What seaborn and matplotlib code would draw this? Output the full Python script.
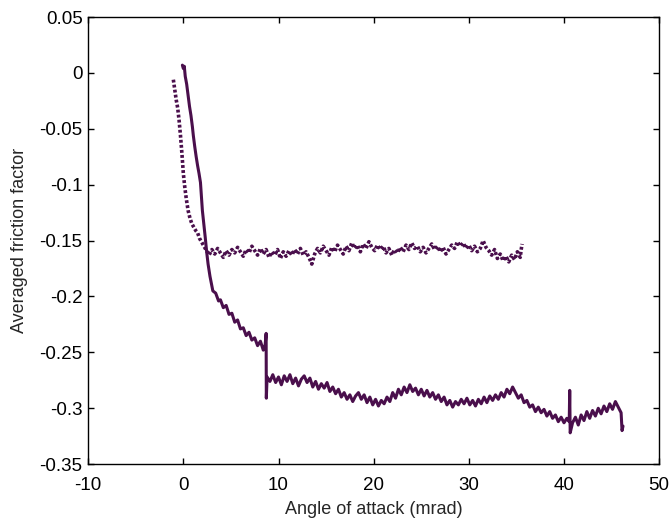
import matplotlib
matplotlib.use("Agg")
import matplotlib.pyplot as plt
import seaborn as sns
import pandas as pd

# ---- data ----
# upper branch (dotted): drops from ~0 near x=-1 and levels at about -0.16
x_upper = [-1.05, -0.9, -0.75, -0.6, -0.45, -0.3, -0.15, 0.0, 0.15, 0.3, 0.5, 0.7,
           0.9, 1.1, 1.3, 1.5, 1.7, 1.9, 2.1, 2.3, 2.5,
           2.7, 3.0, 3.3, 3.6, 3.9, 4.2, 4.5, 4.8, 5.1, 5.4, 5.7, 6.0, 6.3, 6.6, 6.9,
           7.2, 7.5, 7.8, 8.1, 8.4, 8.7, 9.0, 9.3, 9.6, 9.9, 10.2, 10.5, 10.8, 11.1,
           11.4, 11.7, 12.0, 12.3, 12.6, 12.9, 13.2, 13.5, 13.8, 14.1, 14.4, 14.7,
           15.0, 15.3, 15.6, 15.9, 16.2, 16.5, 16.8, 17.1, 17.4, 17.7, 18.0, 18.3,
           18.6, 18.9, 19.2, 19.5, 19.8, 20.1, 20.4, 20.7, 21.0, 21.3, 21.6, 21.9,
           22.2, 22.5, 22.8, 23.1, 23.4, 23.7, 24.0, 24.3, 24.6, 24.9, 25.2, 25.5,
           25.8, 26.1, 26.4, 26.7, 27.0, 27.3, 27.6, 27.9, 28.2, 28.5, 28.8, 29.1,
           29.4, 29.7, 30.0, 30.3, 30.6, 30.9, 31.2, 31.5, 31.8, 32.1, 32.4, 32.7,
           33.0, 33.3, 33.6, 33.9, 34.2, 34.5, 34.8, 35.1, 35.4, 35.5, 35.6]
y_upper = [-0.006, -0.015, -0.024, -0.031, -0.042, -0.056, -0.072, -0.090, -0.102,
           -0.112, -0.123, -0.130, -0.135, -0.138, -0.141, -0.143, -0.148, -0.151,
           -0.154, -0.157, -0.160,
           -0.163, -0.158, -0.162, -0.157, -0.161, -0.165, -0.159, -0.163, -0.158,
           -0.161, -0.156, -0.160, -0.164, -0.158, -0.161, -0.155, -0.159, -0.163,
           -0.157, -0.162, -0.158, -0.165, -0.160, -0.163, -0.158, -0.166, -0.160,
           -0.164, -0.159, -0.163, -0.158, -0.162, -0.157, -0.163, -0.160, -0.165,
           -0.171, -0.162, -0.157, -0.161, -0.155, -0.159, -0.163, -0.156, -0.160,
           -0.154, -0.158, -0.162, -0.155, -0.159, -0.152, -0.157, -0.154, -0.160,
           -0.153, -0.157, -0.151, -0.156, -0.159, -0.154, -0.158, -0.155, -0.161,
           -0.157, -0.163, -0.158, -0.161, -0.156, -0.160, -0.154, -0.158, -0.152,
           -0.157, -0.155, -0.160, -0.156, -0.161, -0.157, -0.153, -0.158, -0.155,
           -0.160, -0.156, -0.162, -0.158, -0.154, -0.157, -0.151, -0.155, -0.152,
           -0.157, -0.154, -0.159, -0.155, -0.160, -0.157, -0.150, -0.156, -0.159,
           -0.163, -0.158, -0.166, -0.162, -0.168, -0.164, -0.169, -0.163, -0.167,
           -0.160, -0.165, -0.158, -0.153]

# lower branch (solid): drops from ~0 at x=0, step near x=8.7, drifts to about -0.30
x_lower = [-0.1, 0.0, 0.1, 0.2, 0.35, 0.5, 0.65, 0.8, 0.95, 1.05, 1.2, 1.35, 1.5,
           1.65, 1.8, 1.9, 2.0, 2.15, 2.3, 2.45, 2.6, 2.8, 3.1,
           3.4, 3.7, 3.9, 4.2, 4.5, 4.8, 5.1, 5.4, 5.7, 6.0, 6.3, 6.6, 6.9, 7.2,
           7.5, 7.8, 8.1, 8.4, 8.6, 8.7, 8.72, 8.8,
           9.1, 9.4, 9.7, 10.0, 10.3, 10.6, 10.9, 11.2, 11.5, 11.8, 12.1, 12.4,
           12.7, 13.0, 13.3, 13.6, 13.9, 14.2, 14.5, 14.8, 15.1, 15.4, 15.7, 16.0,
           16.3, 16.6, 16.9, 17.2, 17.5, 17.8, 18.1, 18.4, 18.7, 19.0, 19.3, 19.6,
           19.9, 20.2, 20.5, 20.8, 21.1, 21.4, 21.7, 22.0, 22.3, 22.6, 22.9, 23.2,
           23.5, 23.8, 24.1, 24.4, 24.7, 25.0, 25.3, 25.6, 25.9, 26.2, 26.5, 26.8,
           27.1, 27.4, 27.7, 28.0, 28.3, 28.6, 28.9, 29.2, 29.5, 29.8, 30.1, 30.4,
           30.7, 31.0, 31.3, 31.6, 31.9, 32.2, 32.5, 32.8, 33.1, 33.4, 33.7, 34.0,
           34.3, 34.6, 34.9, 35.2, 35.5, 35.8, 36.1, 36.4, 36.7, 37.0, 37.3, 37.6,
           37.9, 38.2, 38.5, 38.8, 39.1, 39.4, 39.7, 40.0, 40.3, 40.55, 40.6, 40.65,
           40.9, 41.2, 41.5, 41.8, 42.1, 42.4, 42.7, 43.0, 43.3, 43.6, 43.9, 44.2,
           44.5, 44.8, 45.1, 45.4, 45.7, 46.0, 46.1, 46.2]
y_lower = [0.007, 0.004, 0.006, -0.003, -0.010, -0.020, -0.030, -0.038, -0.048,
           -0.056, -0.066, -0.075, -0.083, -0.090, -0.098, -0.110, -0.123, -0.135,
           -0.147, -0.160, -0.171, -0.182, -0.195,
           -0.197, -0.204, -0.203, -0.210, -0.208, -0.216, -0.215, -0.223, -0.221,
           -0.229, -0.228, -0.235, -0.232, -0.239, -0.237, -0.244, -0.240, -0.248,
           -0.243, -0.233, -0.291, -0.272,
           -0.276, -0.270, -0.277, -0.272, -0.279, -0.271, -0.276, -0.270, -0.278,
           -0.273, -0.280, -0.274, -0.271, -0.277, -0.273, -0.281, -0.276, -0.283,
           -0.278, -0.282, -0.277, -0.285, -0.281, -0.287, -0.283, -0.290, -0.286,
           -0.292, -0.288, -0.294, -0.289, -0.286, -0.292, -0.288, -0.295, -0.290,
           -0.297, -0.292, -0.298, -0.293, -0.296, -0.290, -0.294, -0.286, -0.291,
           -0.283, -0.288, -0.281, -0.286, -0.279, -0.285, -0.282, -0.288, -0.283,
           -0.289, -0.284, -0.290, -0.286, -0.292, -0.288, -0.294, -0.290, -0.297,
           -0.293, -0.299, -0.294, -0.297, -0.292, -0.296, -0.291, -0.297, -0.293,
           -0.298, -0.292, -0.296, -0.290, -0.295, -0.289, -0.293, -0.288, -0.292,
           -0.286, -0.290, -0.283, -0.287, -0.281, -0.286, -0.291, -0.288, -0.295,
           -0.293, -0.299, -0.297, -0.303, -0.299, -0.304, -0.301, -0.307, -0.303,
           -0.309, -0.306, -0.312, -0.308, -0.313, -0.309, -0.312, -0.284, -0.322,
           -0.313, -0.308, -0.315, -0.306, -0.311, -0.303, -0.309, -0.302, -0.307,
           -0.300, -0.305, -0.298, -0.303, -0.296, -0.301, -0.294, -0.299, -0.304,
           -0.320, -0.316]

x_ticks = [-10, 0, 10, 20, 30, 40, 50]
y_ticks = [-0.35, -0.3, -0.25, -0.2, -0.15, -0.1, -0.05, 0, 0.05]
y_tick_labels = ["-0.35", "-0.3", "-0.25", "-0.2", "-0.15", "-0.1", "-0.05", "0", "0.05"]
x_tick_labels = ["-10", "0", "10", "20", "30", "40", "50"]
x_label = "Angle of attack (mrad)"
y_label = "Averaged friction factor"

# ---- styling ----
sns.set_style("ticks")
plt.rcParams["font.family"] = ["Liberation Sans", "DejaVu Sans"]
color = "#4a0f4c"

df_upper = pd.DataFrame({"x": x_upper, "y": y_upper})
df_lower = pd.DataFrame({"x": x_lower, "y": y_lower})

fig = plt.figure(figsize=(6.69, 5.18), dpi=100)
ax = fig.add_axes([0.1318, 0.104, 0.8535, 0.863])

sns.lineplot(data=df_upper, x="x", y="y", ax=ax, sort=False, estimator=None,
             color=color, linewidth=2.6, linestyle=(0, (0.8, 0.6)))
sns.lineplot(data=df_lower, x="x", y="y", ax=ax, sort=False, estimator=None,
             color=color, linewidth=2.2)

ax.set_xlim(-10, 50)
ax.set_ylim(-0.35, 0.05)
ax.set_xticks(x_ticks)
ax.set_xticklabels(x_tick_labels)
ax.set_yticks(y_ticks)
ax.set_yticklabels(y_tick_labels)
ax.set_xlabel(x_label, fontsize=13, labelpad=5)
ax.set_ylabel(y_label, fontsize=13, labelpad=8)
ax.tick_params(direction="in", length=4.5, width=1, top=True, right=True,
               labelsize=13.5, colors="black")
ax.tick_params(axis="x", pad=9)
ax.tick_params(axis="y", pad=4)
for s in ax.spines.values():
    s.set_visible(True)
    s.set_linewidth(1.0)
    s.set_color("black")

fig.savefig("out.png", dpi=100)
